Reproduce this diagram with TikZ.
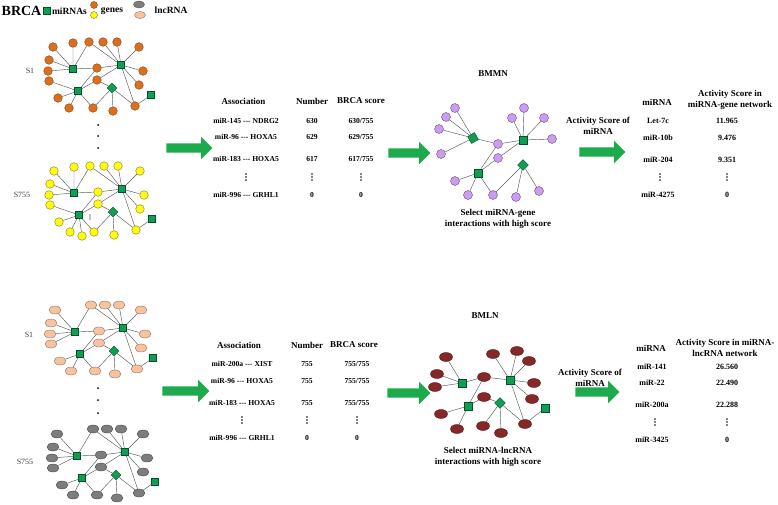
\documentclass[tikz,border=0pt]{standalone}
\usepackage{fontspec}
\setmainfont{Liberation Serif}
\usetikzlibrary{shapes.geometric, shapes.arrows}

\definecolor{mirgreen}{RGB}{16,158,82}
\definecolor{mirdark}{RGB}{0,80,40}
\definecolor{arrowgreen}{RGB}{28,170,76}
\definecolor{geneorange}{RGB}{222,110,28}
\definecolor{geneyellow}{RGB}{255,250,20}
\definecolor{lncpeach}{RGB}{246,194,160}
\definecolor{lncgray}{RGB}{125,125,125}
\definecolor{bmpurple}{RGB}{204,156,240}
\definecolor{blbrown}{RGB}{135,40,40}

\newcommand{\hy}{-{}-{}-}

\newcommand{\samplenet}[2]{%
	\foreach \n/\x/\y in {1/53/47, 3/89/42, 4/103/42, 5/117/42, 6/139/47, 7/49/60, 8/48/71, 9/49/81, 10/97/68, 11/97/80, 12/143/71, 13/139/85, 14/58/98, 15/69/108, 16/93/108, 17/113/111, 18/135/106}
		\node[#2] (#1g\n) at (\x,\y) {};
	\node[mirna] (#1ma) at (73,69) {};
	\node[mirna] (#1mb) at (121,65) {};
	\node[mirna] (#1mc) at (78,91) {};
	\node[mirdia] (#1md) at (112,88) {};
	\node[mirna] (#1me) at (151,95) {};
	\foreach \m/\g in {a/1, a/3, a/7, a/8, a/10, b/3, b/4, b/5, b/6, b/10, b/11, b/12, b/13, b/18, c/10, c/11, c/14, c/15, c/16, d/11, d/16, d/17, d/18, e/18}
		\draw[link] (#1m\m) -- (#1g\g);
}

\begin{document}
\begin{tikzpicture}[x=1pt, y=-1pt, every node/.style={inner sep=0pt},
					link/.style={draw=black!65, line width=0.45pt},
					vd/.style={minimum width=2pt, minimum height=3*#1, path picture={
						\foreach \k in {-1,0,1} \fill (path picture bounding box.center) ++(0,\k*#1) circle (0.26*#1);}},
					vd/.default=3pt]

\tikzstyle{mirna}=[rectangle, draw=mirdark, fill=mirgreen, minimum size=7pt, line width=0.4pt]
\tikzstyle{mirdia}=[diamond, draw=mirdark, fill=mirgreen, minimum size=10pt, line width=0.4pt]
\tikzstyle{gene}=[circle, draw=geneorange!60!black, fill=geneorange, minimum size=8.6pt, line width=0.4pt]
\tikzstyle{ygene}=[gene, draw=geneyellow!50!black, fill=geneyellow]
\tikzstyle{lnc}=[ellipse, draw=lncpeach!60!black, fill=lncpeach, minimum width=12pt, minimum height=8pt, line width=0.4pt]
\tikzstyle{glnc}=[lnc, draw=lncgray!60!black, fill=lncgray]
\tikzstyle{pgene}=[circle, draw=bmpurple!50!black, fill=bmpurple, minimum size=9pt, line width=0.4pt]
\tikzstyle{blnc}=[lnc, draw=blbrown!60!black, fill=blbrown, minimum width=13pt, minimum height=9pt]
\tikzstyle{hdr}=[font=\fontsize{9}{11}\selectfont\bfseries, align=center]
\tikzstyle{cell}=[font=\fontsize{7.6}{9}\selectfont\bfseries]
\tikzstyle{rcell}=[font=\fontsize{8}{9}\selectfont\bfseries]
\tikzstyle{slabel}=[font=\fontsize{8}{9}\selectfont, text=black!75]
\tikzstyle{legtext}=[font=\fontsize{9.5}{11}\selectfont\bfseries]
\tikzstyle{bigarrow}=[single arrow, fill=arrowgreen, inner xsep=0pt, inner ysep=4.5pt, single arrow head extend=6.5pt, minimum height=46pt]
\tikzstyle{dot}=[circle, fill=black, minimum size=2pt]

\useasboundingbox (0,0) rectangle (778,505);

\node[font=\fontsize{14}{16}\selectfont\bfseries] (brca) at (21.5,11) {BRCA};
\node[mirna] (lgmir) at (47,11) {};
\node[legtext] (lgmirt) at (69.5,11) {miRNAs};
\node[gene, minimum size=7pt] (lgorange) at (94,5) {};
\node[ygene, minimum size=7pt] (lgyellow) at (94,15) {};
\node[legtext] (lggenet) at (112,11) {genes};
\node[glnc, minimum width=11pt, minimum height=7pt] (lggray) at (139,4.5) {};
\node[lnc, minimum width=11pt, minimum height=7pt] (lgpeach) at (140,15) {};
\node[legtext] (lglnct) at (171,10) {lncRNA};

\begin{scope}
	\samplenet{t1}{gene}
	\node[gene] (t1g2) at (73,43) {};
	\draw[link] (t1ma) -- (t1g2) (t1mc) -- (t1g9);
\end{scope}
\begin{scope}[shift={(1,124)}]
	\samplenet{t2}{ygene}
	\node[ygene] (t2g2) at (73,43) {};
	\node[ygene] (t2g19) at (81,112) {};
	\node[vd=2pt] (t2vd) at (89,93) {};
	\draw[link] (t2ma) -- (t2g2) (t2mc) -- (t2g9) (t2mc) -- (t2g19);
\end{scope}
\begin{scope}[shift={(2,263)}]
	\samplenet{l1}{lnc}
	\draw[link] (l1ma) -- (l1g9);
\end{scope}
\begin{scope}[shift={(4,387)}]
	\samplenet{l2}{glnc}
	\draw[link] (l2ma) -- (l2g9);
\end{scope}

\node[slabel] (t1lab) at (30,71) {S1};
\node[slabel] (t2lab) at (22,195) {S755};
\node[slabel] (l1lab) at (29,335) {S1};
\node[slabel] (l2lab) at (25,462) {S755};
\foreach \n/\y in {1/125, 2/136, 3/148} \node[dot] (td\n) at (98,\y) {};
\foreach \n/\y in {1/388, 2/400, 3/413} \node[dot] (ld\n) at (98,\y) {};

\node[bigarrow] (arr1) at (187,148) {};
\node[bigarrow, minimum height=42pt] (arr2) at (407,153) {};
\node[bigarrow] (arr3) at (600,152) {};
\node[bigarrow, minimum height=47pt] (arr4) at (183.5,391) {};
\node[bigarrow, minimum height=43pt] (arr5) at (406.5,393) {};
\node[bigarrow, minimum height=44pt] (arr6) at (595,392) {};

\node[hdr] (tha) at (243.5,101) {Association};
\node[hdr] (thn) at (312,101) {Number};
\node[hdr] (ths) at (361,101) {BRCA score};
\foreach \r/\y/\a/\n/\s in {1/121/{miR-145 \hy{} NDRG2}/630/{630/755}, 2/137/{miR-96 \hy{} HOXA5}/629/{629/755}, 3/159/{miR-183 \hy{} HOXA5}/617/{617/755}, 5/195/{miR-996 \hy{} GRHL1}/0/0}
{
	\node[cell] (ta\r) at (246,\y) {\a};
	\node[cell] (tn\r) at (312,\y) {\n};
	\node[cell] (ts\r) at (361,\y) {\s};
}
\node[vd] (ta4) at (246,177) {};
\node[vd] (tn4) at (312,177) {};
\node[vd] (ts4) at (361,177) {};

\node[hdr] (lha) at (239,345) {Association};
\node[hdr] (lhn) at (307,345) {Number};
\node[hdr] (lhs) at (354,345) {BRCA score};
\foreach \r/\y/\a/\n/\s in {1/364/{miR-200a \hy{} XIST}/755/{755/755}, 2/381/{miR-96 \hy{} HOXA5}/755/{755/755}, 3/403/{miR-183 \hy{} HOXA5}/755/{755/755}, 5/438/{miR-996 \hy{} GRHL1}/0/0}
{
	\node[cell] (la\r) at (242,\y) {\a};
	\node[cell] (ln\r) at (307,\y) {\n};
	\node[cell] (ls\r) at (357,\y) {\s};
}
\node[vd] (la4) at (242,420) {};
\node[vd] (ln4) at (307,420) {};
\node[vd] (ls4) at (357,420) {};

\node[hdr] (bmmn) at (493,74) {BMMN};
\foreach \n/\x/\y in {1/455/108, 2/446/117, 3/439/129, 4/441/154, 5/498/144, 6/498/158, 7/524/108, 8/512/118, 9/544/118, 10/552/139, 11/455/181, 12/468/195, 13/493/195, 14/516/197, 15/539/191}
	\node[pgene] (bmg\n) at (\x,\y) {};
\node[mirna, minimum size=8pt, rotate=30] (bmma) at (473,138) {};
\node[mirna, minimum size=8pt] (bmmb) at (523,140) {};
\node[mirna, minimum size=8pt] (bmmc) at (478,173) {};
\node[mirdia, minimum size=11pt] (bmmd) at (523,165) {};
\foreach \m/\g in {a/1, a/2, a/3, a/4, a/5, b/5, b/6, b/7, b/8, b/9, b/10, c/5, c/6, c/11, c/12, c/13, d/13, d/14, d/15}
	\draw[link] (bmm\m) -- (bmg\g);
\node[hdr] (bmsel) at (498,218.5) {Select miRNA-gene\\interactions with high score};

\node[hdr] (tact) at (598,125.5) {Activity Score of\\miRNA};
\node[hdr] (trmh) at (657,102) {miRNA};
\node[hdr] (trvh) at (730,99.5) {Activity Score in\\miRNA-gene network};
\foreach \r/\y/\m/\v in {1/121/Let-7c/11.965, 2/138/miR-10b/9.476, 3/160/miR-204/9.351, 5/195/miR-4275/0}
{
	\node[rcell] (trm\r) at (658,\y) {\m};
	\node[rcell] (trv\r) at (727,\y) {\v};
}
\node[vd] (trm4) at (660,177) {};
\node[vd] (trv4) at (727,177) {};

\node[hdr] (bmln) at (485,316) {BMLN};
\foreach \n/\x/\y in {1/446/357, 2/437/374, 3/435/387, 4/484/377, 5/493/354, 6/517/351, 7/529/361, 8/534/383, 9/532/399, 10/484/397, 11/441/414, 12/457/429, 13/483/426, 14/501/433, 15/525/424}
	\node[blnc] (blg\n) at (\x,\y) {};
\node[mirna, minimum size=8pt] (blma) at (462,383) {};
\node[mirna, minimum size=8pt] (blmb) at (510,380) {};
\node[mirna, minimum size=8pt] (blmc) at (468,406) {};
\node[mirdia, minimum size=11pt] (blmd) at (500,403) {};
\node[mirna, minimum size=8pt] (blme) at (545,408) {};
\foreach \m/\g in {a/1, a/2, a/3, a/4, b/4, b/5, b/6, b/7, b/8, b/9, b/15, c/4, c/10, c/11, c/12, d/10, d/13, d/14, d/15, e/15}
	\draw[link] (blm\m) -- (blg\g);
\node[hdr] (blsel) at (488,456.5) {Select miRNA-lncRNA\\interactions with high score};

\node[hdr] (lact) at (590,377.5) {Activity Score of\\miRNA};
\node[hdr] (lrmh) at (651,348) {miRNA};
\node[hdr] (lrvh) at (725,347.5) {Activity Score in miRNA-\\lncRNA network};
\foreach \r/\y/\m/\v in {1/367/miR-141/26.560, 2/383/miR-22/22.490, 3/405/miR-200a/22.288, 5/440/miR-3425/0}
{
	\node[rcell] (lrm\r) at (652,\y) {\m};
	\node[rcell] (lrv\r) at (727,\y) {\v};
}
\node[vd] (lrm4) at (655,422) {};
\node[vd] (lrv4) at (727,422) {};
\end{tikzpicture}
\end{document}
